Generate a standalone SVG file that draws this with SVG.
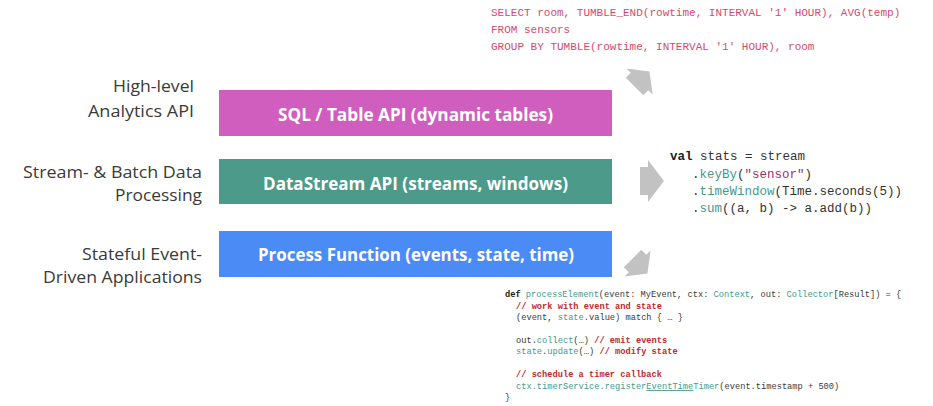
<svg xmlns="http://www.w3.org/2000/svg" width="933" height="406" viewBox="0 0 933 406">
<style>
.lbl{font-family:"Open Sans","Noto Sans",sans-serif;font-size:16px;fill:#3a3a3a;text-anchor:end}
.box-t{font-family:"Open Sans","Noto Sans",sans-serif;font-size:17px;font-weight:700;fill:#ffffff;text-anchor:middle}
.code{font-family:"Liberation Mono","DejaVu Sans Mono",monospace;white-space:pre}
.sql{font-size:11px;fill:#d44a6c}
.ds{font-size:12.5px;fill:#333333}
.pf{font-size:8.7px;fill:#3a3a3a}
.kw{font-weight:700;fill:#222222}
.fn{fill:#3f9a8c}
.str{fill:#9c2f6b}
.cm{fill:#c0282b;font-weight:700}
.arr{fill:#c2c2c2}
</style>
<defs>
<polygon id="arrow" points="-12,-14 -4,-14 -4,-21 12,0 -4,21 -4,14 -12,14"/>
</defs>
<rect width="933" height="406" fill="#ffffff"/>

<g id="label-analytics">
<text class="lbl" x="194" y="92" textLength="81" lengthAdjust="spacingAndGlyphs">High-level</text>
<text class="lbl" x="194" y="117" textLength="106" lengthAdjust="spacingAndGlyphs">Analytics API</text>
</g>
<g id="label-processing">
<text class="lbl" x="202" y="178" textLength="179" lengthAdjust="spacingAndGlyphs">Stream- &amp; Batch Data</text>
<text class="lbl" x="202" y="201" textLength="87" lengthAdjust="spacingAndGlyphs">Processing</text>
</g>
<g id="label-stateful">
<text class="lbl" x="202" y="260" textLength="120" lengthAdjust="spacingAndGlyphs">Stateful Event-</text>
<text class="lbl" x="202" y="283" textLength="159" lengthAdjust="spacingAndGlyphs">Driven Applications</text>
</g>

<g id="node-sql">
<rect x="219" y="90" width="393" height="46" fill="#d05ebe"/>
<text class="box-t" x="415.5" y="120.5" textLength="275" lengthAdjust="spacingAndGlyphs">SQL / Table API (dynamic tables)</text>
</g>
<g id="node-datastream">
<rect x="219" y="159" width="393" height="45" fill="#4b9a8a"/>
<text class="box-t" x="415.5" y="190" textLength="305" lengthAdjust="spacingAndGlyphs">DataStream API (streams, windows)</text>
</g>
<g id="node-process">
<rect x="219" y="231" width="393" height="46" fill="#4b8bf5"/>
<text class="box-t" x="416" y="261" textLength="316" lengthAdjust="spacingAndGlyphs">Process Function (events, state, time)</text>
</g>

<g id="connectors">
<use href="#arrow" class="arr" transform="translate(642,79) rotate(-45) scale(0.88)"/>
<use href="#arrow" class="arr" transform="translate(652,181)"/>
<use href="#arrow" class="arr" transform="translate(640,266) rotate(45) scale(0.88)"/>
</g>

<g id="code-sql" class="code sql">
<text x="491" y="16">SELECT room, TUMBLE_END(rowtime, INTERVAL '1' HOUR), AVG(temp)</text>
<text x="491" y="33">FROM sensors</text>
<text x="491" y="50">GROUP BY TUMBLE(rowtime, INTERVAL '1' HOUR), room</text>
</g>

<g id="code-datastream" class="code ds">
<text x="670" y="160"><tspan class="kw">val</tspan> stats = stream</text>
<text x="692" y="178">.<tspan class="fn">keyBy</tspan>(<tspan class="str">"sensor"</tspan>)</text>
<text x="692" y="195">.<tspan class="fn">timeWindow</tspan>(Time.seconds(5))</text>
<text x="692" y="212">.<tspan class="fn">sum</tspan>((a, b) -&gt; a.add(b))</text>
</g>

<g id="code-process" class="code pf">
<text x="505" y="297"><tspan class="kw">def</tspan> <tspan class="fn">processElement</tspan>(event: MyEvent, ctx: <tspan class="fn">Context</tspan>, out: <tspan class="fn">Collector</tspan>[Result]) = {</text>
<text x="516" y="309" class="cm">// work with event and state</text>
<text x="516" y="320">(event, <tspan class="fn">state</tspan>.value) match { … }</text>
<text x="516" y="343">out.<tspan class="fn">collect</tspan>(…) <tspan class="cm">// emit events</tspan></text>
<text x="516" y="354"><tspan class="fn">state</tspan>.<tspan class="fn">update</tspan>(…) <tspan class="cm">// modify state</tspan></text>
<text x="516" y="377" class="cm">// schedule a timer callback</text>
<text x="516" y="389"><tspan class="fn">ctx.timerService.register<tspan text-decoration="underline">EventTime</tspan>Timer</tspan>(event.timestamp + 500)</text>
<text x="505" y="400">}</text>
</g>
</svg>
